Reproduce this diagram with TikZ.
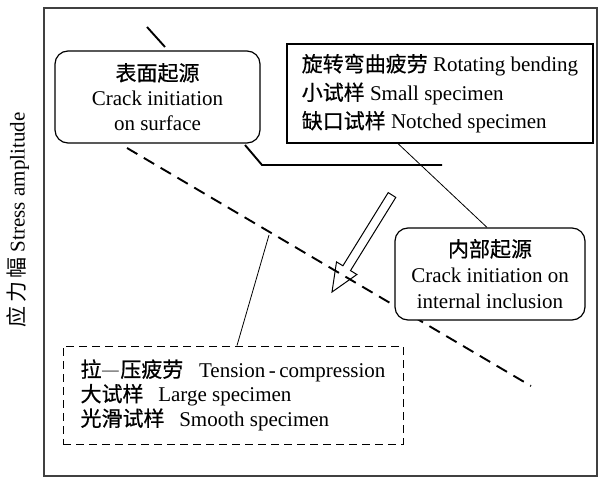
\documentclass[tikz,border=0pt]{standalone}
\usepackage{fontspec}
\setmainfont{Liberation Serif}
\newfontfamily\cjk[FakeBold=0.6]{Noto Sans CJK SC}
\newfontfamily\cjklight{Noto Sans CJK SC}
\usetikzlibrary{calc}
\begin{document}
\begin{tikzpicture}[x=1pt,y=-1pt,
  every node/.style={inner sep=0pt},
  rbox/.style={draw, fill=white, line width=1.2pt, rounded corners=13pt, align=center},
  sbox/.style={draw, fill=white, line width=1.2pt, align=left},
  dbox/.style={draw, fill=white, line width=1pt, dash pattern=on 8pt off 5pt, align=left},
  curve/.style={line width=1.9pt},
  leader/.style={line width=0.8pt},
  hollowarrow/.style={line width=1pt, line join=miter}]
\useasboundingbox (0,0) rectangle (602,481);
\draw[black!75, line width=1.2pt] (44,8) rectangle (597,476);

% curves
\draw[curve] (147,27) -- (165,47);
\draw[curve] (245,145) -- (262,165) -- (442,165);
\draw[curve, dash pattern=on 12pt off 7.5pt] (127,148) -- (531,386);
\coordinate (lk) at (269,235);

% hollow arrow
\draw[hollowarrow] (395.8,197.4) -- (350.5,270.6) -- (356.9,274.5) -- (332,292)
  -- (336.5,261.9) -- (342.9,265.8) -- (388.2,192.6) -- cycle;

% boxes
\node[rbox, minimum width=205pt, minimum height=92pt,
  font=\fontsize{21}{25}\selectfont] (surf) at (157.5,97)
  {{\cjk 表面起源}\\Crack initiation\\on surface};
\node[sbox, minimum width=306pt, minimum height=99pt,
  font=\fontsize{21}{28.5}\selectfont] (rot) at (440,93.5)
  {{\cjk 旋转弯曲疲劳} Rotating bending\\{\cjk 小试样} Small specimen\\{\cjk 缺口试样} Notched specimen};
\node[rbox, minimum width=190pt, minimum height=92pt,
  font=\fontsize{21}{26}\selectfont] (int) at (490,274)
  {{\cjk 内部起源}\\Crack initiation on\\internal inclusion};
\node[dbox, minimum width=340pt, minimum height=98pt,
  font=\fontsize{21}{24.5}\selectfont] (tc) at (233,395)
  {{\cjk 拉{\cjklight\color{black!60}—}压疲劳}\hspace{0.75em}Tension\,-\,compression\\{\cjk 大试样}\hspace{0.7em}Large specimen\\{\cjk 光滑试样}\hspace{0.7em}Smooth specimen};

% leaders
\draw[leader] ([xshift=-42pt]rot.south) -- ([xshift=-3pt]int.north);
\draw[leader] ([xshift=4pt]tc.north) -- (lk);

% y label
\node[rotate=90, font=\fontsize{21}{25}\selectfont] (ylab) at (18,220)
  {{\cjklight 应\,力\,幅} Stress amplitude};
\end{tikzpicture}
\end{document}
